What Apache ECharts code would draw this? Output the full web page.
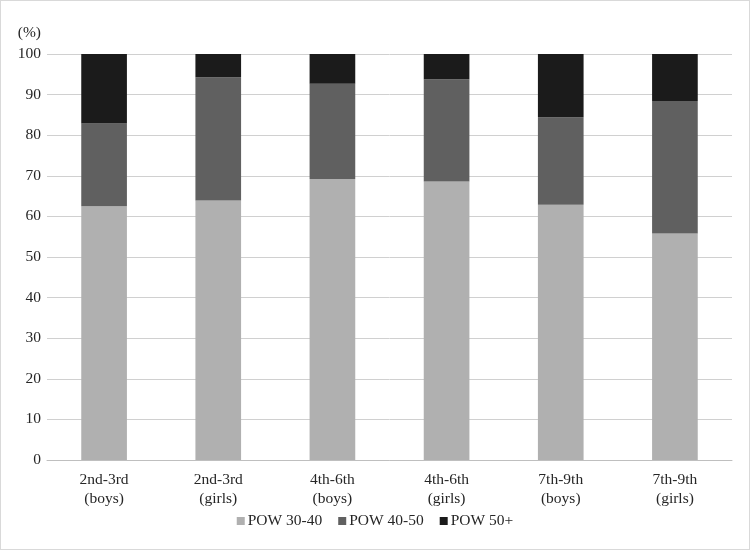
<!DOCTYPE html>
<html>
<head>
<meta charset="utf-8">
<script src="https://cdn.jsdelivr.net/npm/echarts@6/dist/echarts.min.js"></script>
<style>
  html, body { margin: 0; padding: 0; background: #fff; }
  #chart { width: 750px; height: 550px; box-sizing: border-box; border: 1px solid #d9d9d9; }
</style>
</head>
<body>
<div id="chart"></div>
<script>
// categories on the x axis
const categories = [
  '2nd-3rd\n(boys)', '2nd-3rd\n(girls)',
  '4th-6th\n(boys)', '4th-6th\n(girls)',
  '7th-9th\n(boys)', '7th-9th\n(girls)'
]
// share of each POW group, %
const pow30to40 = [62.5, 63.9, 69.2, 68.6, 62.9, 55.8]
const pow40to50 = [20.4, 30.4, 23.5, 25.2, 21.5, 32.6]
const pow50plus = [17.1, 5.7, 7.3, 6.2, 15.6, 11.6]

const font = '"Liberation Serif", "DejaVu Serif", serif'
const textColor = '#262626'

const myChart = echarts.init(document.getElementById('chart'))

function makeSeries(name, values, color) {
  return {
    name: name,
    type: 'bar',
    stack: 'total',
    barWidth: '40%',
    data: values,
    itemStyle: { color: color },
    emphasis: { disabled: true }
  }
}

myChart.setOption({
  animation: false,
  textStyle: { fontFamily: font },
  grid: { left: 46, right: 17, top: 53, bottom: 89 },
  legend: {
    bottom: 15,
    left: 'center',
    itemWidth: 8,
    itemHeight: 8,
    itemGap: 16,
    icon: 'rect',
    textStyle: { fontFamily: font, fontSize: 15.5, color: textColor, padding: [0, 0, 0, -2] },
    data: ['POW 30-40', 'POW 40-50', 'POW 50+']
  },
  xAxis: {
    type: 'category',
    data: categories,
    axisTick: { show: false },
    axisLine: { lineStyle: { color: '#bfbfbf', width: 1 } },
    axisLabel: {
      color: textColor,
      fontFamily: font,
      fontSize: 15.5,
      lineHeight: 19,
      margin: 10,
      interval: 0
    }
  },
  yAxis: {
    type: 'value',
    min: 0,
    max: 100,
    interval: 10,
    name: '(%)',
    nameLocation: 'end',
    nameGap: 13,
    nameTextStyle: { color: textColor, fontFamily: font, fontSize: 15.5, align: 'right', padding: [0, 6, 0, 0] },
    axisLine: { show: false },
    axisTick: { show: false },
    axisLabel: { color: textColor, fontFamily: font, fontSize: 15.5, margin: 6 },
    splitLine: { lineStyle: { color: '#d0d0d0', width: 1 } }
  },
  series: [
    makeSeries('POW 30-40', pow30to40, '#b0b0b0'),
    makeSeries('POW 40-50', pow40to50, '#606060'),
    makeSeries('POW 50+', pow50plus, '#1b1b1b')
  ]
})
</script>
</body>
</html>
